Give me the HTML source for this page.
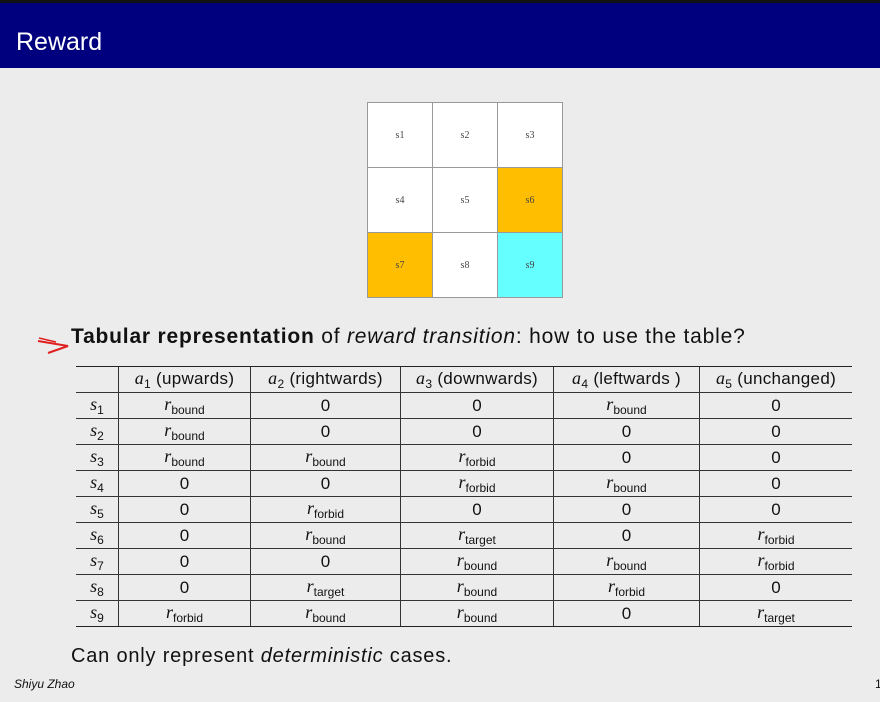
<!DOCTYPE html>
<html><head><style>
body{margin:0;width:880px;height:702px;background:#ececec;position:relative;overflow:hidden;font-family:"Liberation Sans",sans-serif;}
.hdr{position:absolute;left:0;top:0;width:880px;height:68px;background:#00007f;border-top:3px solid #111;box-sizing:border-box;}
.hdr span{position:absolute;left:16px;top:25px;color:#fff;font-size:25px;}
.grid{position:absolute;left:367px;top:102px;border-collapse:collapse;}
.grid td{width:64px;height:64px;border:1px solid #999;background:#fff;text-align:center;font-family:"Liberation Serif",serif;font-size:10px;color:#444;padding:0}
.t{position:absolute;left:0;top:0;font-size:21px;color:#111;letter-spacing:0.8px}
table.r{position:absolute;left:76px;top:366px;border-collapse:collapse;font-size:17px;}
table.r td{height:25px;border-top:1px solid #333;border-bottom:1px solid #333;border-left:1px solid #333;text-align:center;padding:0;color:#111}
table.r td:first-child{border-left:none}
table.r tr:first-child td{border-top:1.5px solid #222}
table.r tr:last-child td{border-bottom:1.5px solid #222}
.b{color:#3030d0}
table.r tr:first-child td{letter-spacing:0.3px}
.m{font-family:"Liberation Serif",serif;font-style:italic;font-size:18px}
sub{font-style:normal;font-size:12px;vertical-align:-4px}
</style></head><body>
<div class="hdr"><span>Reward</span></div>
<table class="grid">
<tr><td>s1</td><td>s2</td><td>s3</td></tr>
<tr><td>s4</td><td>s5</td><td style="background:#ffbf00">s6</td></tr>
<tr><td style="background:#ffbf00">s7</td><td>s8</td><td style="background:#66ffff">s9</td></tr>
</table>
<svg style="position:absolute;left:36px;top:333px" width="36" height="22"><path d="M2 8 L32 13 L12 20" stroke="#e02020" stroke-width="2" fill="none"/><path d="M3 5 L20 9" stroke="#e02020" stroke-width="1.5"/></svg>
<div class="t" style="left:71px;top:325px"><b>Tabular representation</b> of <i>reward transition</i>: how to use the table?</div>
<table class="r">
<tr><td style="width:42px"></td><td class="b" style="width:131px"><span class="m">a</span><sub>1</sub> (upwards)</td><td class="b" style="width:149px"><span class="m">a</span><sub>2</sub> (rightwards)</td><td class="b" style="width:152px"><span class="m">a</span><sub>3</sub> (downwards)</td><td class="b" style="width:145px"><span class="m">a</span><sub>4</sub> (leftwards )</td><td class="b" style="width:152px"><span class="m">a</span><sub>5</sub> (unchanged)</td></tr>
<tr><td class="b"><span class="m">s</span><sub>1</sub></td><td><span class="m">r</span><sub>bound</sub></td><td>0</td><td>0</td><td><span class="m">r</span><sub>bound</sub></td><td>0</td></tr>
<tr><td class="b"><span class="m">s</span><sub>2</sub></td><td><span class="m">r</span><sub>bound</sub></td><td>0</td><td>0</td><td>0</td><td>0</td></tr>
<tr><td class="b"><span class="m">s</span><sub>3</sub></td><td><span class="m">r</span><sub>bound</sub></td><td><span class="m">r</span><sub>bound</sub></td><td><span class="m">r</span><sub>forbid</sub></td><td>0</td><td>0</td></tr>
<tr><td class="b"><span class="m">s</span><sub>4</sub></td><td>0</td><td>0</td><td><span class="m">r</span><sub>forbid</sub></td><td><span class="m">r</span><sub>bound</sub></td><td>0</td></tr>
<tr><td class="b"><span class="m">s</span><sub>5</sub></td><td>0</td><td><span class="m">r</span><sub>forbid</sub></td><td>0</td><td>0</td><td>0</td></tr>
<tr><td class="b"><span class="m">s</span><sub>6</sub></td><td>0</td><td><span class="m">r</span><sub>bound</sub></td><td><span class="m">r</span><sub>target</sub></td><td>0</td><td><span class="m">r</span><sub>forbid</sub></td></tr>
<tr><td class="b"><span class="m">s</span><sub>7</sub></td><td>0</td><td>0</td><td><span class="m">r</span><sub>bound</sub></td><td><span class="m">r</span><sub>bound</sub></td><td><span class="m">r</span><sub>forbid</sub></td></tr>
<tr><td class="b"><span class="m">s</span><sub>8</sub></td><td>0</td><td><span class="m">r</span><sub>target</sub></td><td><span class="m">r</span><sub>bound</sub></td><td><span class="m">r</span><sub>forbid</sub></td><td>0</td></tr>
<tr><td class="b"><span class="m">s</span><sub>9</sub></td><td><span class="m">r</span><sub>forbid</sub></td><td><span class="m">r</span><sub>bound</sub></td><td><span class="m">r</span><sub>bound</sub></td><td>0</td><td><span class="m">r</span><sub>target</sub></td></tr>
</table>
<div class="t" style="left:71px;top:645px;font-size:20px">Can only represent <i>deterministic</i> cases.</div>
<div style="position:absolute;left:14px;top:677px;font-size:12px;font-style:italic;color:#111">Shiyu Zhao</div>
<div style="position:absolute;left:875px;top:677px;font-size:12px;color:#111">1</div>
</body></html>
